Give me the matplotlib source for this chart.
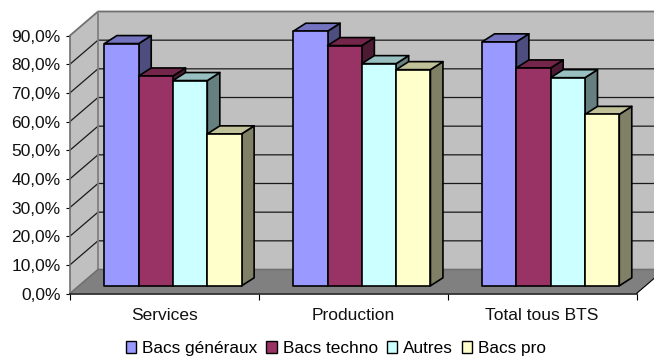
import matplotlib
matplotlib.use("Agg")
import matplotlib.pyplot as plt
from matplotlib.patches import Polygon, Patch

plt.rcParams['font.family'] = ['Liberation Sans', 'DejaVu Sans']

categories = ["Services", "Production", "Total tous BTS"]
bacs_generaux = [84.5, 88.8, 85.1]
bacs_techno = [73.2, 83.8, 76.0]
autres = [71.6, 77.5, 72.6]
bacs_pro = [53.0, 75.4, 59.8]
series_names = ["Bacs généraux", "Bacs techno", "Autres", "Bacs pro"]
y_ticks = [0, 10, 20, 30, 40, 50, 60, 70, 80, 90]

series = [bacs_generaux, bacs_techno, autres, bacs_pro]
front = ["#9999FF", "#993366", "#CCFFFF", "#FFFFCC"]
top = ["#7373C0", "#732649", "#99C0C0", "#C0C099"]
side = ["#4D4D80", "#4D1A33", "#668080", "#808066"]

W, H = 654, 356
L, R, B, T = 70, 636.5, 293.5, 35.5
fig = plt.figure(figsize=(W / 100, H / 100), dpi=100, facecolor="white")
ax = fig.add_axes([L / W, 1 - B / H, (R - L) / W, (B - T) / H])
ax.set_xlim(0, 3)
ax.set_ylim(0, 90)

PX = 3 / (R - L)       # data units per horizontal pixel
PY = 90 / (B - T)      # data units per vertical pixel
DX, DY = 28 * PX, 24 * PY                # chart depth
OX, OY = 8.6 * PX, 7.7 * PY              # bar front offset
BX, BY = 12.5 * PX, 8 * PY               # bar depth
BW = 34.3 * PX                           # bar width


def poly(pts, fc, ec="none", lw=0, z=1):
    ax.add_patch(Polygon(pts, closed=True, facecolor=fc, edgecolor=ec,
                         linewidth=lw, zorder=z, clip_on=False,
                         joinstyle="round"))


# back wall, left wall, floor
poly([(DX, DY), (3 + DX, DY), (3 + DX, 90 + DY), (DX, 90 + DY)], "#C0C0C0", z=1)
poly([(0, 0), (DX, DY), (DX, 90 + DY), (0, 90)], "#C0C0C0", z=1)
poly([(0, 0), (3, 0), (3 + DX, DY), (DX, DY)], "#808080", z=2)

# gridlines
for v in y_ticks[1:-1]:
    ax.plot([0, DX, 3 + DX], [v, v + DY, v + DY], color="#1A1A1A", lw=0.9,
            zorder=2, clip_on=False)
ax.plot([0, DX, 3 + DX], [90, 90 + DY, 90 + DY], color="#707070", lw=1.3,
        zorder=2, clip_on=False)
ax.plot([DX, DX], [DY, 90 + DY], color="#808080", lw=1.3, zorder=2, clip_on=False)
ax.plot([0, DX, 3 + DX], [0, DY, DY], color="#707070", lw=1.2, zorder=2, clip_on=False)
ax.plot([3, 3 + DX], [0, DY], color="#000000", lw=0.8, zorder=2, clip_on=False)

# bars
z = 3
for i in range(len(categories)):
    for j, vals in enumerate(series):
        v = vals[i]
        x0 = i + 0.5 + (j - 2) * BW + OX
        x1 = x0 + BW
        y0 = OY
        y1 = OY + v
        poly([(x1, y0), (x1 + BX, y0 + BY), (x1 + BX, y1 + BY), (x1, y1)],
             side[j], "black", 1.2, z)
        poly([(x0, y1), (x1, y1), (x1 + BX, y1 + BY), (x0 + BX, y1 + BY)],
             top[j], "black", 1.2, z)
        poly([(x0, y0), (x1, y0), (x1, y1), (x0, y1)],
             front[j], "black", 1.2, z)
        z += 1

# axes
for s in ("top", "right"):
    ax.spines[s].set_visible(False)
ax.spines["left"].set_color("#707070")
ax.spines["left"].set_linewidth(1.2)
ax.spines["left"].set_zorder(2)
ax.spines["bottom"].set_color("#202020")
ax.spines["bottom"].set_linewidth(1.2)
ax.spines["bottom"].set_zorder(2)
ax.set_yticks(y_ticks)
ax.set_yticklabels([f"{v},0%" for v in y_ticks], fontsize=12.5, color="#111111")
ax.set_xticks([0, 1, 2, 3])
ax.set_xticklabels([])
ax.set_xticks([0.5, 1.5, 2.5], categories, minor=True, fontsize=12.5, color="#111111")
ax.tick_params(axis="x", which="minor", length=0, pad=10.5)
ax.tick_params(axis="x", which="major", length=4, width=0.8, color="black")
ax.tick_params(axis="y", length=3.2, width=0.8, pad=3.5, color="black")

handles = [Patch(facecolor=front[k], edgecolor="black", linewidth=1.0, label=series_names[k])
           for k in range(4)]
fig.legend(handles=handles, ncols=4, loc="center", bbox_to_anchor=(0.5138, 1 - 348.5 / H),
           frameon=False, fontsize=12.4, handlelength=0.62, handleheight=0.62,
           handletextpad=0.35, columnspacing=0.5, borderpad=0, borderaxespad=0)

fig.savefig("out.png", dpi=100, facecolor="white")
